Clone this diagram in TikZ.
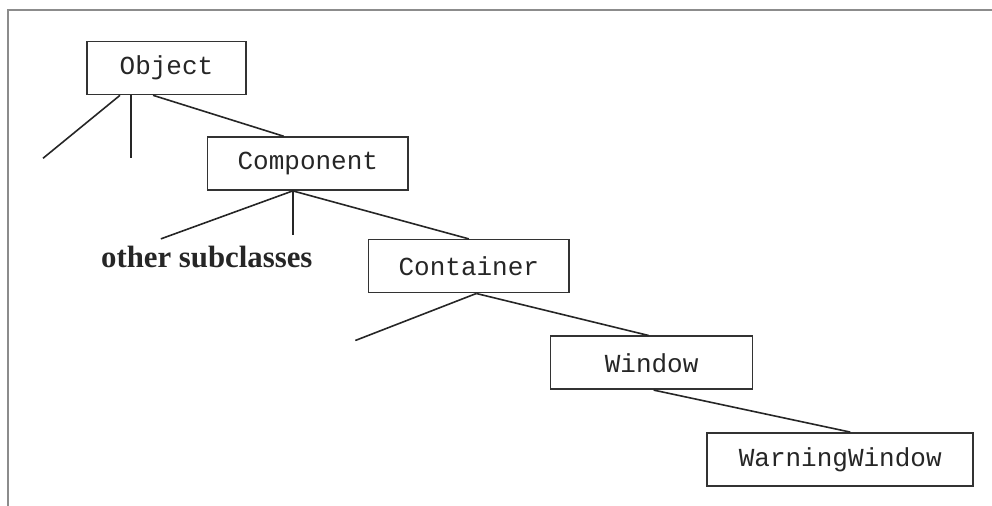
\documentclass[tikz,border=0pt]{standalone}
\usepackage{fontspec}
\setmonofont{Liberation Mono}
\newfontfamily\subfont{Liberation Serif}
\usetikzlibrary{positioning}

\tikzset{
  cls/.style={draw=black!80, line width=0.8pt, fill=white, text=black!85,
    font=\ttfamily\fontsize{13}{15}\selectfont,
    minimum height=26.5pt, inner xsep=15pt},
  link/.style={draw=black!85, line width=0.8pt},
  sub/.style={text=black!85, font=\subfont\bfseries\fontsize{15.4}{18}\selectfont, inner sep=0pt},
  frame/.style={draw=black!45, line width=1.3pt}
}

\begin{document}
\begin{tikzpicture}
      \useasboundingbox (0,0) rectangle (496pt,-253pt);
      \draw [frame] (4pt,-253pt) -- (4pt,-5pt) -- (496pt,-5pt);

      \node [cls, minimum width=79.5pt] (obj) at (83.25pt,-34pt) {Object};
      \node [cls, below right=20.5pt and -20pt of obj, anchor=north west] (comp) {Component};
      \node [cls, below right=24pt and -20.5pt of comp, anchor=north west] (cont) {Container};
      \node [cls, minimum width=101pt, below right=21pt and -10pt of cont, anchor=north west] (win) {Window};
      \node [cls, minimum width=133pt, below right=21pt and -23.5pt of win, anchor=north west] (warn) {WarningWindow};

      % points on the box edges
      \coordinate (o1) at ([xshift=-23.25pt]obj.south);
      \coordinate (o2) at ([xshift=-17.75pt]obj.south);
      \coordinate (o3) at ([xshift=-6.75pt]obj.south);
      \coordinate (c1) at ([xshift=-7.5pt]comp.south);
      \coordinate (k1) at ([xshift=3.75pt]cont.south);
      \coordinate (w1) at ([xshift=1pt]win.south);

      % loose ends
      \coordinate [below left=31.5pt and 38.5pt of o1] (f1);
      \coordinate [below=31.5pt of o2] (f2);
      \coordinate [below left=24pt and 66pt of c1] (f3);
      \coordinate [below=22pt of c1] (f4);
      \coordinate [below left=23.5pt and 60.5pt of k1] (f5);

      \node [sub, anchor=base] (others) at ([xshift=-43pt,yshift=-16.5pt]f4) {other subclasses};

      \draw [link] (o1) -- (f1);
      \draw [link] (o2) -- (f2);
      \draw [link] (o3) -- ([xshift=-12pt]comp.north);
      \draw [link] (c1) -- (f3);
      \draw [link] (c1) -- (f4);
      \draw [link] (c1) -- (cont.north);
      \draw [link] (k1) -- (f5);
      \draw [link] (k1) -- ([xshift=-1.5pt]win.north);
      \draw [link] (w1) -- ([xshift=5pt]warn.north);
    \end{tikzpicture}
\end{document}
